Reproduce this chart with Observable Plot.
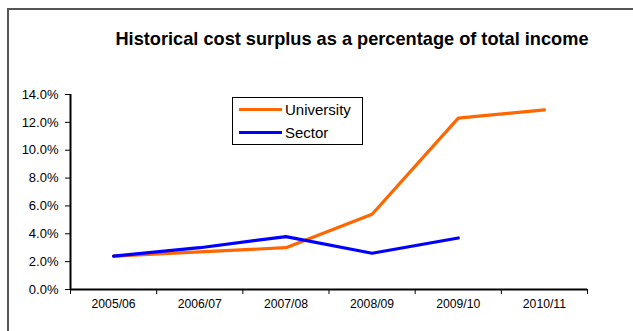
<!DOCTYPE html>
<html><head><meta charset="utf-8">
<script src="https://cdn.jsdelivr.net/npm/d3@7"></script>
<script src="https://cdn.jsdelivr.net/npm/@observablehq/plot@0.6"></script>
<style>
body{margin:0;background:#fff;font-family:"Liberation Sans",Arial,sans-serif;}
#wrap{position:relative;width:633px;height:331px;overflow:hidden;}
#frame{position:absolute;left:7px;top:8px;width:700px;height:400px;border-top:2px solid #555;border-left:2px solid #555;}
#title{position:absolute;left:0;width:704px;top:29px;text-align:center;font-weight:bold;font-size:18.2px;color:#000;}
#legend{position:absolute;left:232px;top:97px;width:129px;height:46px;border:1px solid #000;background:#fff;font-size:15px;}
.li{position:absolute;left:6px;height:18px;display:flex;align-items:center;}
.li span.sw{display:inline-block;width:43px;height:3px;margin-right:3px;}
#chart{position:absolute;left:0;top:0;}
</style></head>
<body><div id="wrap"><div id="frame"></div><div id="chart"></div><div id="title"></div><div id="legend"></div></div>
<script>
const title = "Historical cost surplus as a percentage of total income";
const years = ["2005/06","2006/07","2007/08","2008/09","2009/10","2010/11"];
const university = [2.4, 2.7, 3.0, 5.4, 12.3, 12.9];
const sector = [2.4, 3.0, 3.8, 2.6, 3.7, null];
const seriesNames = ["University","Sector"];
const colors = ["#FF6600","#0000FF"];
const yTicks = [0,2,4,6,8,10,12,14];

const data = [];
years.forEach((y,i)=>{
  if (university[i]!=null) data.push({i, v: university[i], s: seriesNames[0]});
});
years.forEach((y,i)=>{
  if (sector[i]!=null) data.push({i, v: sector[i], s: seriesNames[1]});
});
const idx = years.map((_,i)=>i);
const bounds = [...idx.map(i=>i-0.5), years.length-0.5];
const FONT = '"Liberation Sans", Arial, sans-serif';

const chart = Plot.plot({
  width: 633, height: 331,
  marginLeft: 70, marginRight: 46, marginTop: 94, marginBottom: 42,
  style: {fontFamily: FONT, color: "#000", background: "transparent"},
  x: {type: "linear", domain: [-0.5, years.length-0.5]},
  y: {domain: [0, 14]},
  marks: [
    Plot.axisY({ticks: yTicks, tickFormat: () => "", tickSize: 5, label: null, stroke: "#000"}),
    Plot.axisX({ticks: bounds, tickFormat: () => "", tickSize: 5, label: null, stroke: "#000"}),
    Plot.text(yTicks, {y: d => d, x: -0.5, dx: -12, text: d => d.toFixed(1)+"%", textAnchor: "end", fontSize: 13, fontFamily: FONT, fill: "#000"}),
    Plot.text(idx, {x: d => d, y: 0, dy: 15, text: i => years[i], textAnchor: "middle", fontSize: 12.2, fontFamily: FONT, fill: "#000"}),
    Plot.ruleY([0], {stroke: "#000", strokeWidth: 2}),
    Plot.ruleX([-0.5], {stroke: "#000", strokeWidth: 2}),
    Plot.line(data, {x: "i", y: "v", z: "s", stroke: d => colors[seriesNames.indexOf(d.s)], strokeWidth: 3.2, strokeLinejoin: "miter", strokeLinecap: "round"})
  ]
});
document.getElementById("chart").appendChild(chart);
document.getElementById("title").textContent = title;
const lg = document.getElementById("legend");
seriesNames.forEach((n,k)=>{
  const d = document.createElement("div");
  d.className = "li";
  d.style.top = (k===0? 2 : 25) + "px";
  d.innerHTML = `<span class="sw" style="background:${colors[k]}"></span><span>${n}</span>`;
  lg.appendChild(d);
});
</script></body></html>
